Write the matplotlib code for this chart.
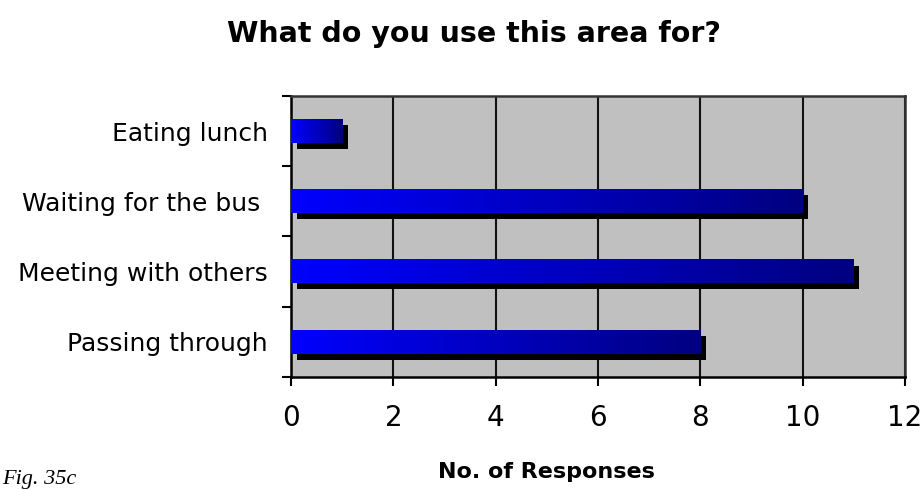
import numpy as np
import matplotlib
matplotlib.use("Agg")
import matplotlib.pyplot as plt
from matplotlib.colors import LinearSegmentedColormap

categories = ["Eating lunch", "Waiting for the bus ", "Meeting with others", "Passing through"]
responses = [1, 10, 11, 8]
x_ticks = [0, 2, 4, 6, 8, 10, 12]

title = "What do you use this area for?"
x_label = "No. of Responses"
caption = "Fig. 35c"

fig = plt.figure(figsize=(9.21, 4.90), dpi=100)
ax = fig.add_axes([0.316, 0.231, 0.6665, 0.573])
ax.set_facecolor("#c0c0c0")

grad_cmap = LinearSegmentedColormap.from_list("bar_grad", ["#0000ff", "#000080"])
gradient = np.linspace(0, 1, 256).reshape(1, -1)

bar_h = 0.34
shadow_dx = 0.11
shadow_dy = 0.085
ypos = np.arange(len(categories))

# drop shadows first, then gradient-filled bars on top
ax.barh(ypos + shadow_dy, responses, height=bar_h, left=shadow_dx,
        color="black", zorder=2)
for y, v in zip(ypos, responses):
    ax.imshow(gradient, cmap=grad_cmap, aspect="auto",
              extent=[0, v, y + bar_h / 2, y - bar_h / 2],
              interpolation="bilinear", zorder=3)

ax.set_xlim(0, 12)
ax.set_ylim(len(categories) - 0.5, -0.5)
ax.set_xticks(x_ticks)
ax.set_xticklabels([str(t) for t in x_ticks])
ax.set_yticks(ypos)
ax.set_yticklabels(categories)
ax.set_yticks(np.arange(-0.5, len(categories)), minor=True)

ax.grid(axis="x", color="#111111", linewidth=1.5, zorder=1)
ax.set_axisbelow(True)

ax.tick_params(axis="y", which="major", length=0, pad=16.5,
               labelsize=18, labelcolor="black")
ax.tick_params(axis="y", which="minor", length=6.5, width=1.5, color="black")
ax.tick_params(axis="x", length=6.5, width=1.5, color="black",
               labelsize=20, pad=13)

for side in ["left", "bottom"]:
    ax.spines[side].set_color("black")
    ax.spines[side].set_linewidth(1.8)
for side in ["top", "right"]:
    ax.spines[side].set_color("#333333")
    ax.spines[side].set_linewidth(1.8)

fig.text(0.515, 0.93, title, ha="center", va="center",
         fontsize=20.5, fontweight="bold", family="DejaVu Sans")
fig.text(0.593, 0.036, x_label, ha="center", va="center",
         fontsize=16, fontweight="bold", family="DejaVu Sans")
fig.text(0.002, 0.012, caption, ha="left", va="baseline",
         fontsize=16, style="italic", family="Liberation Serif")

fig.savefig("out.png", dpi=100)
